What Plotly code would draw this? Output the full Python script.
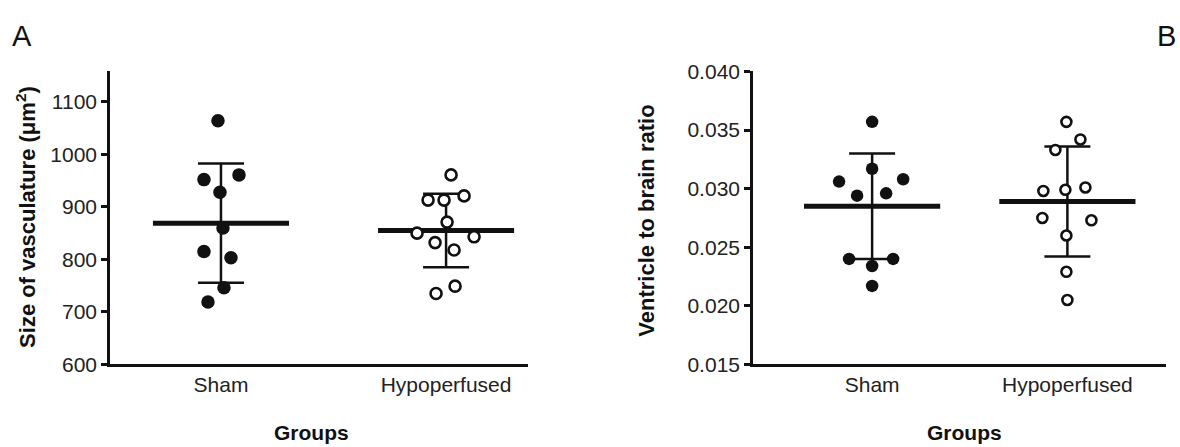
import plotly.graph_objects as go

# ---------------- data ----------------
groups = ["Sham", "Hypoperfused"]

# Panel A: size of vasculature (um^2)
a_sham = [1064, 952, 961, 928, 860, 815, 803, 746, 719]
a_hypo = [961, 913, 913, 921, 871, 850, 843, 832, 818, 749, 735]
a_mean = [869, 855]
a_sd = [113.5, 70]

# Panel B: ventricle to brain ratio
b_sham = [0.0357, 0.0317, 0.0306, 0.0308, 0.0294, 0.0296, 0.0240, 0.0240, 0.0234, 0.0217]
b_hypo = [0.0357, 0.0342, 0.0333, 0.0298, 0.0299, 0.0301, 0.0275, 0.0273, 0.0260, 0.0229, 0.0205]
b_mean = [0.0285, 0.0289]
b_sd = [0.0045, 0.0047]

a_ticks = [600, 700, 800, 900, 1000, 1100]
b_ticks = [0.015, 0.020, 0.025, 0.030, 0.035, 0.040]

# horizontal scatter offsets (pixels) used for the dot plot layout
jit_a_sham = [-3, -17, 18, -1, 2, -17, 10, 3, -13]
jit_a_hypo = [5, -18, -2, 18, 1, -29, 28, -11, 8, 9, -10]
jit_b_sham = [0, 0, -33, 31, -15, 14, -23, 21, 0, 0]
jit_b_hypo = [-1, 13, -12, -24, -2, 18, -25, 24, -1, -1, 0]

W, H = 1180, 447
FONT = "Liberation Sans"
BLACK = "#111111"

fig = go.Figure()

def add_panel(xa, ya, vals, jits, means, sds, spacing, msize):
    # mean lines and SD error bars (drawn first, markers on top)
    for i in range(2):
        hw = 68 / spacing
        fig.add_trace(go.Scatter(x=[i - hw, i + hw], y=[means[i], means[i]], mode="lines",
                                 line=dict(color=BLACK, width=5), xaxis=xa, yaxis=ya,
                                 showlegend=False, hoverinfo="skip"))
        fig.add_trace(go.Scatter(x=[i], y=[means[i]], mode="markers",
                                 marker=dict(size=1, color="rgba(0,0,0,0)"),
                                 error_y=dict(type="data", array=[sds[i]], visible=True,
                                              color=BLACK, thickness=2.5, width=23),
                                 xaxis=xa, yaxis=ya, showlegend=False, hoverinfo="skip"))
    for i in range(2):
        xs = [i + j / spacing for j in jits[i]]
        if i == 0:
            mk = dict(size=msize, color=BLACK, line=dict(width=0))
        else:
            mk = dict(size=msize - 2.5, color="white", line=dict(width=2.6, color=BLACK))
        fig.add_trace(go.Scatter(x=xs, y=vals[i], mode="markers", marker=mk,
                                 xaxis=xa, yaxis=ya, showlegend=False))

add_panel("x", "y", [a_sham, a_hypo], [jit_a_sham, jit_a_hypo], a_mean, a_sd, 225, 13.5)
add_panel("x2", "y2", [b_sham, b_hypo], [jit_b_sham, jit_b_hypo], b_mean, b_sd, 195, 12.5)

def px(x):
    return x / W

def py(y):
    return 1 - y / H

ydom = [py(371.5), py(62.7)]
axis_common = dict(showline=True, linecolor=BLACK, linewidth=2.6, showgrid=False, zeroline=False,
                   tickfont=dict(family=FONT, size=21, color="#222222"))

fig.update_layout(
    width=W, height=H, margin=dict(l=0, r=0, t=0, b=0),
    plot_bgcolor="white", paper_bgcolor="white",
    font=dict(family=FONT),
    xaxis=dict(domain=[px(110), px(528)], range=[-0.493, 1.364], tickmode="array",
               tickvals=[0, 1], ticktext=groups, ticks="", **axis_common),
    yaxis=dict(domain=ydom, range=[600, 1158], tickmode="array", tickvals=a_ticks,
               ticks="outside", ticklen=6, tickwidth=2.6, tickcolor=BLACK, anchor="x", **axis_common),
    xaxis2=dict(domain=[px(753), px(1166)], range=[-0.61, 1.505], tickmode="array",
                tickvals=[0, 1], ticktext=groups, ticks="", anchor="y2", **axis_common),
    yaxis2=dict(domain=ydom, range=[0.015, 0.040], tickmode="array", tickvals=b_ticks,
                tickformat=".3f", ticks="outside", ticklen=6, tickwidth=2.6, tickcolor=BLACK,
                anchor="x2", **axis_common),
)

ann = [
    dict(text="A", x=px(22), y=py(25), font=dict(size=29)),
    dict(text="B", x=px(1166), y=py(25), font=dict(size=29)),
    dict(text="<b>Size of vasculature (μm<sup>2</sup>)</b>", x=px(26), y=py(216), textangle=-90,
         font=dict(size=22)),
    dict(text="<b>Ventricle to brain ratio</b>", x=px(647), y=py(220), textangle=-90,
         font=dict(size=22)),
    dict(text="<b>Groups</b>", x=px(311), y=py(443), font=dict(size=21)),
    dict(text="<b>Groups</b>", x=px(964), y=py(443), font=dict(size=21)),
]
for a in ann:
    a.update(xref="paper", yref="paper", showarrow=False, xanchor="center", yanchor="middle")
    a["font"].update(family=FONT, color="#111111")
    fig.add_annotation(**a)

fig.write_html("out.html", config={"displayModeBar": False},
               post_script="document.body.style.margin='0';document.body.style.overflow='hidden';")
